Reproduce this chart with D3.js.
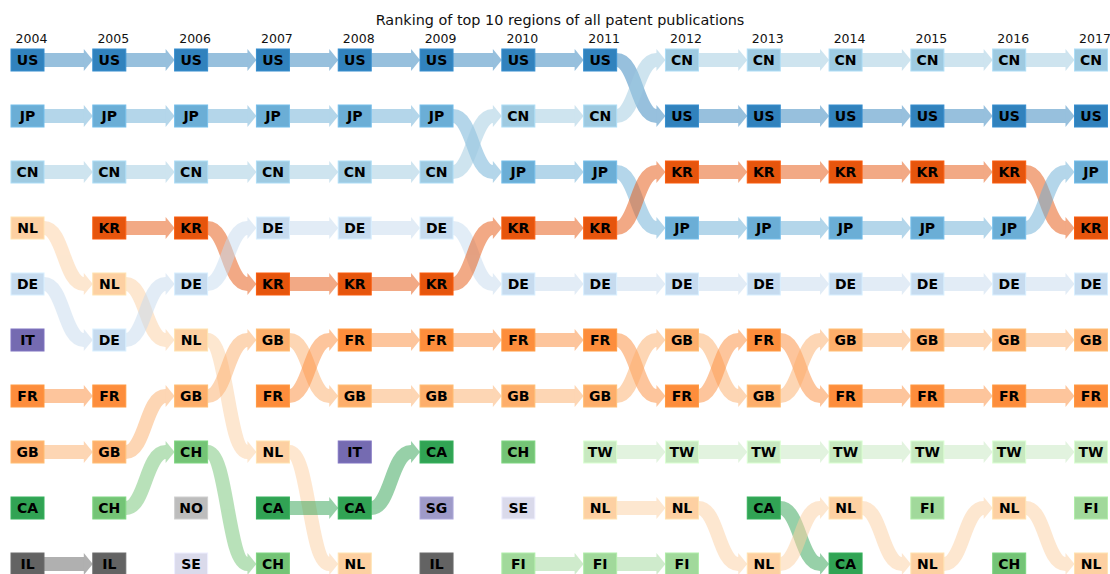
<!DOCTYPE html>
<html>
<head>
<meta charset="utf-8">
<script src="https://cdn.jsdelivr.net/npm/d3@7"></script>
<style>
  body { margin: 0; background: #fff; }
  text { font-family: "DejaVu Sans", sans-serif; }
</style>
</head>
<body>
<svg id="chart" width="1110" height="574"></svg>
<script>
// years across the top, one ranking list (top to bottom) per year
const years = [2004, 2005, 2006, 2007, 2008, 2009, 2010, 2011, 2012, 2013, 2014, 2015, 2016, 2017];
const rankings = [
    ["US", "JP", "CN", "NL", "DE", "IT", "FR", "GB", "CA", "IL"],
    ["US", "JP", "CN", "KR", "NL", "DE", "FR", "GB", "CH", "IL"],
    ["US", "JP", "CN", "KR", "DE", "NL", "GB", "CH", "NO", "SE"],
    ["US", "JP", "CN", "DE", "KR", "GB", "FR", "NL", "CA", "CH"],
    ["US", "JP", "CN", "DE", "KR", "FR", "GB", "IT", "CA", "NL"],
    ["US", "JP", "CN", "DE", "KR", "FR", "GB", "CA", "SG", "IL"],
    ["US", "CN", "JP", "KR", "DE", "FR", "GB", "CH", "SE", "FI"],
    ["US", "CN", "JP", "KR", "DE", "FR", "GB", "TW", "NL", "FI"],
    ["CN", "US", "KR", "JP", "DE", "GB", "FR", "TW", "NL", "FI"],
    ["CN", "US", "KR", "JP", "DE", "FR", "GB", "TW", "CA", "NL"],
    ["CN", "US", "KR", "JP", "DE", "GB", "FR", "TW", "NL", "CA"],
    ["CN", "US", "KR", "JP", "DE", "GB", "FR", "TW", "FI", "NL"],
    ["CN", "US", "KR", "JP", "DE", "GB", "FR", "TW", "NL", "CH"],
    ["CN", "US", "JP", "KR", "DE", "GB", "FR", "TW", "FI", "NL"]
];
const regions = ["US", "JP", "CN", "DE", "KR", "FR", "GB", "NL", "CA", "CH", "FI", "TW", "IT", "SG", "SE", "IL", "NO"];
const regionColors = ["#3182bd", "#6baed6", "#9ecae1", "#c6dbef", "#e6550d", "#fd8d3c", "#fdae6b", "#fdd0a2",
                      "#31a354", "#74c476", "#a1d99b", "#c7e9c0", "#756bb1", "#9e9ac8", "#dadaeb", "#636363", "#bdbdbd"];
const title = "Ranking of top 10 regions of all patent publications";

const svg = d3.select("#chart");
const boxW = 33, boxH = 22, bandW = 14, headL = 9, headW = 22;

const x = d3.scalePoint().domain(years).range([27.5, 1091]);
const y = d3.scalePoint().domain(d3.range(10)).range([60, 564]);
const color = d3.scaleOrdinal().domain(regions).range(regionColors);

// build the links: same region in two consecutive years
const links = [];
for (let i = 0; i < years.length - 1; i++) {
    rankings[i].forEach((code, r) => {
        const j = rankings[i + 1].indexOf(code);
        if (j >= 0) links.push({code: code, y0: years[i], r0: r, y1: years[i + 1], r1: j});
    });
}

const linkG = svg.append("g").attr("class", "links");
links.forEach(l => {
    const x0 = x(l.y0) + boxW / 2;
    const x1 = x(l.y1) - boxW / 2 - headL;
    const ya = y(l.r0), yb = y(l.r1);
    const xm = (x0 + x1) / 2;
    // group opacity so band and head don't double up
    const g = linkG.append("g").attr("opacity", 0.5);
    const p = d3.path();
    p.moveTo(x0, ya);
    if (ya === yb) p.lineTo(x1 + 1, yb);
    else { p.bezierCurveTo(xm, ya, xm, yb, x1, yb); p.lineTo(x1 + 1, yb); }
    g.append("path")
        .attr("d", p.toString())
        .attr("fill", "none")
        .attr("stroke", color(l.code))
        .attr("stroke-width", bandW);
    g.append("path")
        .attr("d", `M${x1},${yb - headW / 2}L${x1 + headL},${yb}L${x1},${yb + headW / 2}Z`)
        .attr("fill", color(l.code));
});

// boxes with region codes
const cells = [];
rankings.forEach((list, i) => list.forEach((code, r) => cells.push({year: years[i], rank: r, code: code})));

const cellG = svg.append("g").selectAll("g").data(cells).join("g")
    .attr("transform", d => `translate(${x(d.year)},${y(d.rank)})`);
cellG.append("rect")
    .attr("x", -boxW / 2).attr("y", -boxH / 2)
    .attr("width", boxW).attr("height", boxH)
    .attr("fill", d => color(d.code))
    .attr("stroke", d => d3.color(color(d.code)).brighter(0.25))
    .attr("stroke-width", 1);
cellG.append("text")
    .attr("text-anchor", "middle")
    .attr("dy", "0.36em")
    .attr("font-size", 14)
    .attr("font-weight", "bold")
    .attr("fill", "#000")
    .text(d => d.code);

// year labels
svg.append("g").selectAll("text").data(years).join("text")
    .attr("x", d => x(d) + 4)
    .attr("y", 43)
    .attr("text-anchor", "middle")
    .attr("font-size", 12.5)
    .attr("fill", "#111")
    .text(d => d);

svg.append("text")
    .attr("x", 560).attr("y", 25)
    .attr("text-anchor", "middle")
    .attr("font-size", 14.4)
    .attr("fill", "#111")
    .text(title);
</script>
</body>
</html>
